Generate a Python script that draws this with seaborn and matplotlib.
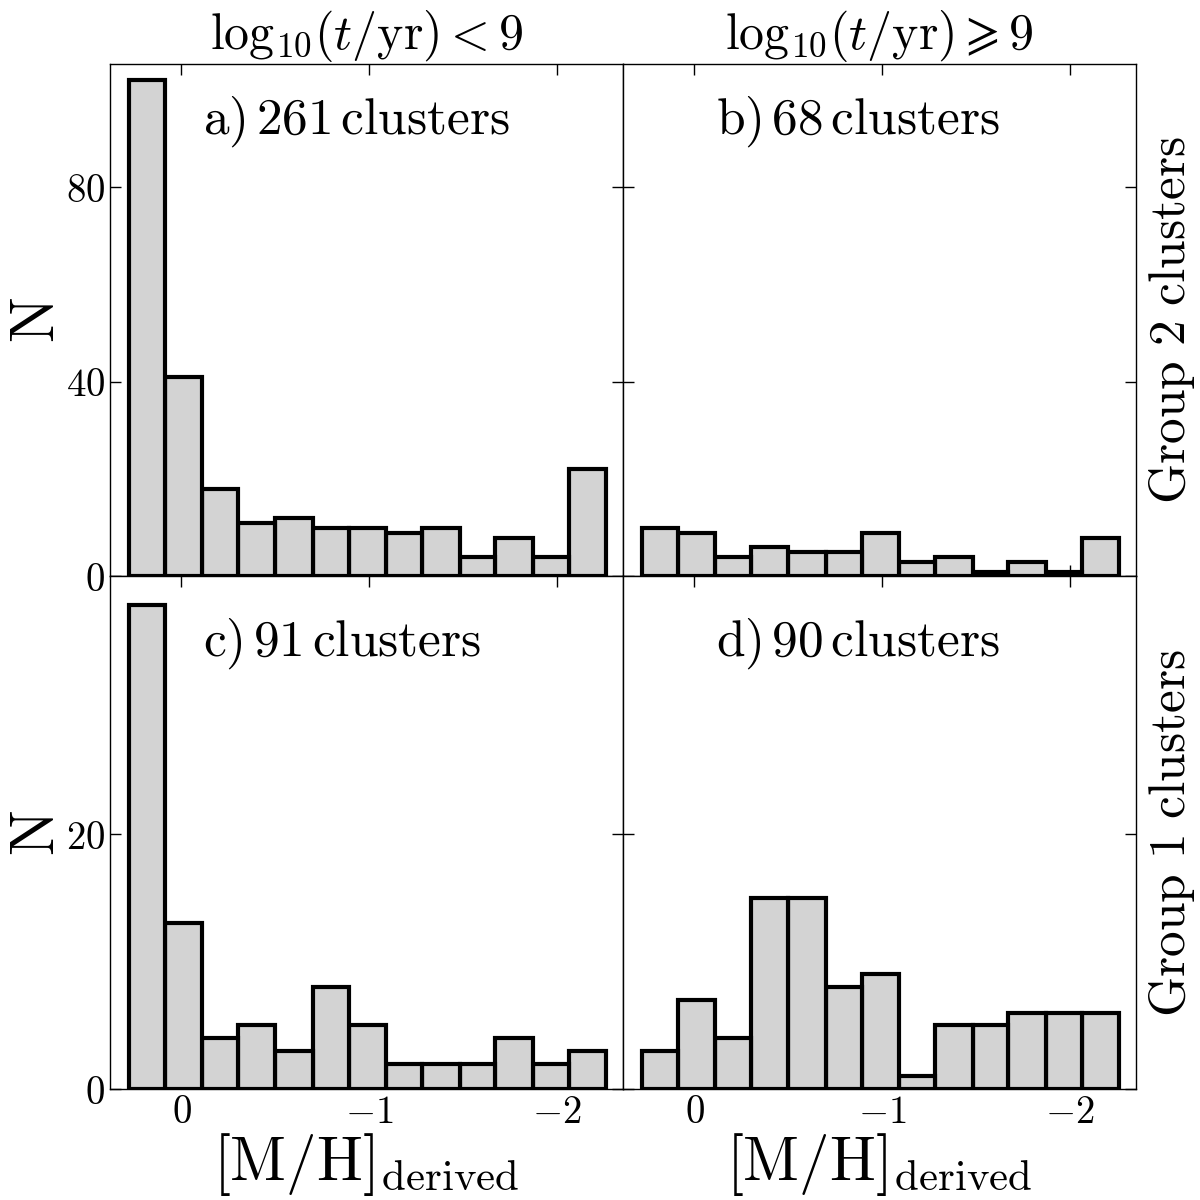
import matplotlib
matplotlib.use("Agg")
import matplotlib.pyplot as plt
import pandas as pd
import seaborn as sns

# bin edges in [M/H]_derived, listed from metal-rich (left) to metal-poor (right)
bin_edges = [0.28, 0.085, -0.11, -0.30, -0.50, -0.70, -0.89, -1.09,
             -1.28, -1.48, -1.67, -1.87, -2.06, -2.26]

# counts per bin, same order as the edges
counts_a = [102, 41, 18, 11, 12, 10, 10, 9, 10, 4, 8, 4, 22]
counts_b = [10, 9, 4, 6, 5, 5, 9, 3, 4, 1, 3, 1, 8]
counts_c = [38, 13, 4, 5, 3, 8, 5, 2, 2, 2, 4, 2, 3]
counts_d = [3, 7, 4, 15, 15, 8, 9, 1, 5, 5, 6, 6, 6]

panel_labels = ["a)\\,261\\,clusters", "b)\\,68\\,clusters",
                "c)\\,91\\,clusters", "d)\\,90\\,clusters"]
col_titles = [r"$\mathrm{log}_{10}(t/\mathrm{yr})<9$",
              r"$\mathrm{log}_{10}(t/\mathrm{yr})\geqslant9$"]
row_labels = ["Group\\ 2\\ clusters", "Group\\ 1\\ clusters"]
xtick_vals = [0, -1, -2]
xtick_labels = [r"$0$", r"$-1$", r"$-2$"]

sns.set_style("ticks")
plt.rcParams["mathtext.fontset"] = "cm"
plt.rcParams["font.family"] = ["DejaVu Serif"]
plt.rcParams["axes.linewidth"] = 1.0
plt.rcParams["axes.edgecolor"] = "black"
plt.rcParams["text.color"] = "black"
plt.rcParams["axes.labelcolor"] = "black"
plt.rcParams["xtick.color"] = "black"
plt.rcParams["ytick.color"] = "black"

fig, axes = plt.subplots(2, 2, figsize=(12, 12), dpi=100, sharex=True)
fig.subplots_adjust(left=0.0917, right=0.9467, bottom=0.0925, top=0.9467,
                    wspace=0, hspace=0)

edges_up = sorted(bin_edges)
centers = [0.5 * (a + b) for a, b in zip(edges_up[1:], edges_up[:-1])]

all_counts = [counts_a, counts_b, counts_c, counts_d]
for i, ax in enumerate(axes.flat):
    df = pd.DataFrame({"mh": centers, "n": all_counts[i][::-1]})
    sns.histplot(data=df, x="mh", weights="n", bins=edges_up, ax=ax,
                 color="lightgray", edgecolor="black", linewidth=3, alpha=1)
    ax.set_xlim(0.38, -2.35)
    ax.set_xticks(xtick_vals)
    ax.tick_params(direction="in", top=True, right=True, length=8, width=1,
                   labelsize=28)
    ax.set_ylabel("")
    ax.set_xlabel("")
    label_y = 0.887 if i < 2 else 0.869
    ax.text(0.182, label_y, "$\\mathrm{" + panel_labels[i] + "}$",
            transform=ax.transAxes, ha="left", va="center", fontsize=37)

for ax in axes[0]:
    ax.set_ylim(0, 105.3)
    ax.set_yticks([0, 40, 80])
for ax in axes[1]:
    ax.set_ylim(0, 40.2)
    ax.set_yticks([0, 20])

for r in range(2):
    axes[r, 0].set_yticklabels([f"${int(t)}$" for t in axes[r, 0].get_yticks()])
    axes[r, 0].set_ylabel(r"$\mathrm{N}$", fontsize=44, labelpad=-1)
    axes[r, 1].tick_params(labelleft=False)
    axes[r, 1].yaxis.set_label_position("right")
    axes[r, 1].set_ylabel("$\\mathrm{" + row_labels[r] + "}$", fontsize=37,
                          labelpad=8)

for c in range(2):
    axes[0, c].set_title(col_titles[c], fontsize=36, pad=6)
    axes[1, c].set_xticklabels(xtick_labels)
    axes[1, c].set_xlabel(r"$[\mathrm{M/H}]_{\mathrm{derived}}$", fontsize=44,
                          labelpad=0)

fig.savefig("out.png", dpi=100)
